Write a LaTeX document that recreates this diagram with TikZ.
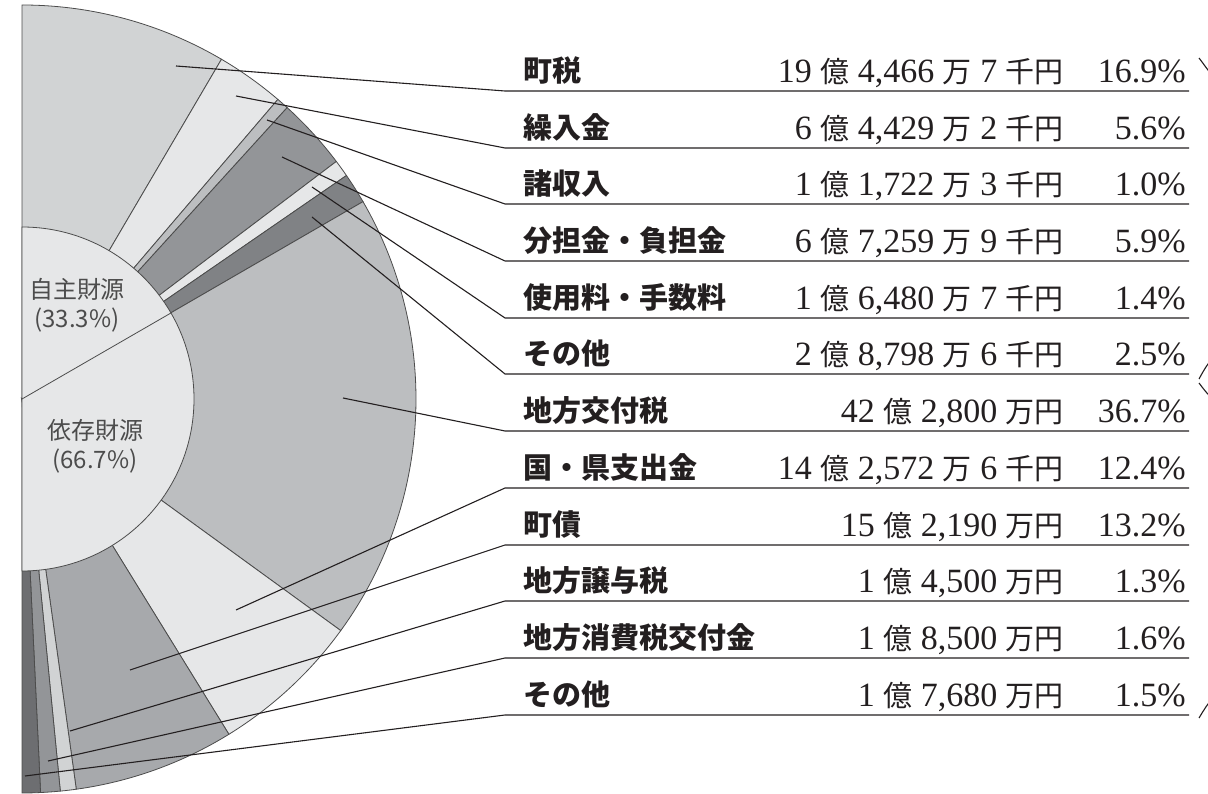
\documentclass[tikz,border=0pt]{standalone}
\usepackage{fontspec}
\setmainfont{Liberation Serif}
\newfontfamily\cjk{Noto Sans CJK JP}
\newcommand\kj[1]{\hspace{8.5pt}{\cjk\fontsize{29}{34}\selectfont #1}\hspace{8.5pt}}
\newcommand\kend[1]{\hspace{8.5pt}{\cjk\fontsize{29}{34}\selectfont #1}}
\definecolor{grayA}{HTML}{E6E7E8}
\definecolor{grayB}{HTML}{D1D3D4}
\definecolor{grayC}{HTML}{BCBEC0}
\definecolor{grayD}{HTML}{A7A9AC}
\definecolor{grayE}{HTML}{939598}
\definecolor{grayF}{HTML}{808285}
\definecolor{grayG}{HTML}{6D6E71}
\definecolor{ink}{HTML}{231F20}
\begin{document}
\begin{tikzpicture}[x=1pt, y=1pt,
	seg/.style={draw=black!70, line width=0.8pt},
	leader/.style={draw=ink, line width=1.1pt},
	lbl/.style={anchor=base west, inner sep=0pt, text=ink, font=\cjk\bfseries\fontsize{29}{34}\selectfont},
	amt/.style={anchor=base east, inner sep=0pt, text=ink, font=\fontsize{34}{40}\selectfont},
	src/.style={align=center, inner sep=0pt, text=black!70, font=\cjk\fontsize{24}{29}\selectfont},
	brc/.style={draw=ink, line width=1.1pt}]
	\useasboundingbox (0,0) rectangle (1208,793);
	\coordinate (c) at (22,394);
	
	%Jishu zaigen
	\draw[seg, fill=grayB] (c) -- ++(90:394) arc[start angle=90, end angle=59.58, radius=394] -- cycle;
	\draw[seg, fill=grayA] (c) -- ++(59.58:394) arc[start angle=59.58, end angle=49.5, radius=394] -- cycle;
	\draw[seg, fill=grayC] (c) -- ++(49.5:394) arc[start angle=49.5, end angle=47.7, radius=394] -- cycle;
	\draw[seg, fill=grayE] (c) -- ++(47.7:394) arc[start angle=47.7, end angle=37.08, radius=394] -- cycle;
	\draw[seg, fill=grayA] (c) -- ++(37.08:394) arc[start angle=37.08, end angle=34.56, radius=394] -- cycle;
	\draw[seg, fill=grayF] (c) -- ++(34.56:394) arc[start angle=34.56, end angle=30.06, radius=394] -- cycle;
	%Izon zaigen
	\draw[seg, fill=grayC] (c) -- ++(30.06:394) arc[start angle=30.06, end angle=-36, radius=394] -- cycle;
	\draw[seg, fill=grayA] (c) -- ++(-36:394) arc[start angle=-36, end angle=-58.32, radius=394] -- cycle;
	\draw[seg, fill=grayD] (c) -- ++(-58.32:394) arc[start angle=-58.32, end angle=-82.08, radius=394] -- cycle;
	\draw[seg, fill=grayB] (c) -- ++(-82.08:394) arc[start angle=-82.08, end angle=-84.42, radius=394] -- cycle;
	\draw[seg, fill=grayE] (c) -- ++(-84.42:394) arc[start angle=-84.42, end angle=-87.3, radius=394] -- cycle;
	\draw[seg, fill=grayG] (c) -- ++(-87.3:394) arc[start angle=-87.3, end angle=-90, radius=394] -- cycle;
	
	%inner circle
	\draw[seg, fill=grayA] (c) ++(0,172) arc[start angle=90, end angle=-90, radius=172] -- cycle;
	\draw[seg] (c) -- ++(30:172);
	\node[src] (jishu) at (77,488) {自主財源\\(33.3\%)};
	\node[src] (izon) at (95,347) {依存財源\\(66.7\%)};
	
	%町税
	\coordinate (p1) at (176,727); \coordinate (u1) at (505,702);
	\draw[leader] (p1) -- (u1) -- ++(684,0);
	\node[lbl] (l1) at (523,711) {町税};
	\node[amt] (a1) at (1064,710) {19\kj{億}4,466\kj{万}7\kend{千円}};
	\node[amt] (r1) at (1186,710) {16.9\%};
	%繰入金
	\coordinate (p2) at (236,697); \coordinate (u2) at (505,645);
	\draw[leader] (p2) -- (u2) -- ++(684,0);
	\node[lbl] (l2) at (523,654) {繰入金};
	\node[amt] (a2) at (1064,653) {6\kj{億}4,429\kj{万}2\kend{千円}};
	\node[amt] (r2) at (1186,653) {5.6\%};
	%諸収入
	\coordinate (p3) at (267,673); \coordinate (u3) at (505,589);
	\draw[leader] (p3) -- (u3) -- ++(684,0);
	\node[lbl] (l3) at (523,598) {諸収入};
	\node[amt] (a3) at (1064,597) {1\kj{億}1,722\kj{万}3\kend{千円}};
	\node[amt] (r3) at (1186,597) {1.0\%};
	%分担金・負担金
	\coordinate (p4) at (282,636); \coordinate (u4) at (505,532);
	\draw[leader] (p4) -- (u4) -- ++(684,0);
	\node[lbl] (l4) at (523,541) {分担金・負担金};
	\node[amt] (a4) at (1064,540) {6\kj{億}7,259\kj{万}9\kend{千円}};
	\node[amt] (r4) at (1186,540) {5.9\%};
	%使用料・手数料
	\coordinate (p5) at (312,606); \coordinate (u5) at (505,475);
	\draw[leader] (p5) -- (u5) -- ++(684,0);
	\node[lbl] (l5) at (523,484) {使用料・手数料};
	\node[amt] (a5) at (1064,483) {1\kj{億}6,480\kj{万}7\kend{千円}};
	\node[amt] (r5) at (1186,483) {1.4\%};
	%その他
	\coordinate (p6) at (312,576); \coordinate (u6) at (505,419);
	\draw[leader] (p6) -- (u6) -- ++(684,0);
	\node[lbl] (l6) at (523,428) {その他};
	\node[amt] (a6) at (1064,427) {2\kj{億}8,798\kj{万}6\kend{千円}};
	\node[amt] (r6) at (1186,427) {2.5\%};
	%地方交付税
	\coordinate (p7) at (343,395); \coordinate (u7) at (505,362);
	\draw[leader] (p7) -- (u7) -- ++(684,0);
	\node[lbl] (l7) at (523,371) {地方交付税};
	\node[amt] (a7) at (1064,370) {42\kj{億}2,800\kend{万円}};
	\node[amt] (r7) at (1186,370) {36.7\%};
	%国・県支出金
	\coordinate (p8) at (236,183); \coordinate (u8) at (505,305);
	\draw[leader] (p8) -- (u8) -- ++(684,0);
	\node[lbl] (l8) at (523,314) {国・県支出金};
	\node[amt] (a8) at (1064,313) {14\kj{億}2,572\kj{万}6\kend{千円}};
	\node[amt] (r8) at (1186,313) {12.4\%};
	%町債
	\coordinate (p9) at (130,123); \coordinate (u9) at (505,248);
	\draw[leader] (p9) -- (u9) -- ++(684,0);
	\node[lbl] (l9) at (523,257) {町債};
	\node[amt] (a9) at (1064,256) {15\kj{億}2,190\kend{万円}};
	\node[amt] (r9) at (1186,256) {13.2\%};
	%地方譲与税
	\coordinate (p10) at (70,62); \coordinate (u10) at (505,192);
	\draw[leader] (p10) -- (u10) -- ++(684,0);
	\node[lbl] (l10) at (523,201) {地方譲与税};
	\node[amt] (a10) at (1064,200) {1\kj{億}4,500\kend{万円}};
	\node[amt] (r10) at (1186,200) {1.3\%};
	%地方消費税交付金
	\coordinate (p11) at (48,32); \coordinate (u11) at (505,135);
	\draw[leader] (p11) -- (u11) -- ++(684,0);
	\node[lbl] (l11) at (523,144) {地方消費税交付金};
	\node[amt] (a11) at (1064,143) {1\kj{億}8,500\kend{万円}};
	\node[amt] (r11) at (1186,143) {1.6\%};
	%その他
	\coordinate (p12) at (25,17); \coordinate (u12) at (505,78);
	\draw[leader] (p12) -- (u12) -- ++(684,0);
	\node[lbl] (l12) at (523,87) {その他};
	\node[amt] (a12) at (1064,86) {1\kj{億}7,680\kend{万円}};
	\node[amt] (r12) at (1186,86) {1.5\%};
	
	%braces
	\begin{scope}
	\clip (0,0) rectangle (1208,793);
	\draw[brc] (1199,735) .. controls (1205,727) .. (1216,712) -- (1216,440) .. controls (1205,425) .. (1199,414);
	\draw[brc] (1199,410) .. controls (1205,402) .. (1216,390) -- (1216,100) .. controls (1205,85) .. (1199,75);
	\end{scope}
	
\end{tikzpicture}
\end{document}
